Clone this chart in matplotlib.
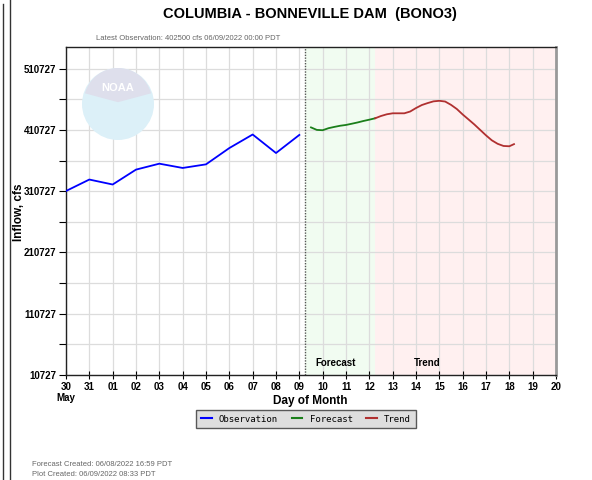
import numpy as np
import matplotlib.pyplot as plt
from matplotlib.patches import Circle, Wedge
from matplotlib.lines import Line2D

plt.rcParams["font.family"] = ["Liberation Sans", "DejaVu Sans"]

# days counted from May 30 00:00
obs_days = [0, 1, 2, 3, 4, 5, 6, 7, 8, 9, 10]
obs_flow = [311000, 329700, 321600, 345900, 355600, 348600, 354500,
            381100, 403200, 373000, 402500]

fcst_days = [10.5, 10.75, 11.0, 11.25, 11.5, 11.75, 12.0, 12.25, 12.5,
             12.75, 13.0, 13.25]
fcst_flow = [414800, 410700, 410200, 413500, 415600, 417500, 418800,
             420800, 422900, 425300, 427400, 429700]

trend_days = [13.25, 13.5, 13.75, 14.0, 14.25, 14.5, 14.75, 15.0, 15.25,
              15.5, 15.75, 16.0, 16.25, 16.5, 16.75, 17.0, 17.25, 17.5,
              17.75, 18.0, 18.25, 18.5, 18.75, 19.0, 19.2]
trend_flow = [429700, 433400, 436200, 437800, 437800, 437800, 440700,
              446400, 451300, 454500, 457300, 458200, 457000, 451600,
              444800, 435900, 427800, 419600, 410700, 401800, 393700,
              388000, 384500, 384000, 387500]

day_labels = ["30", "31", "01", "02", "03", "04", "05", "06", "07", "08",
              "09", "10", "11", "12", "13", "14", "15", "16", "17", "18",
              "19", "20"]
y_major = [10727, 110727, 210727, 310727, 410727, 510727]

now_day = 10.25
fcst_end = 13.25

fig = plt.figure(figsize=(5.92, 4.80), dpi=100)
ax = fig.add_axes([66 / 592, 1 - 375 / 480, 490 / 592, 328 / 480])

ax.axvspan(now_day, fcst_end, color="#f1fcf1", zorder=0, lw=0)
ax.axvspan(fcst_end, 21, color="#fff0f0", zorder=0, lw=0)

ax.set_xlim(0, 21)
ax.set_ylim(10727, 546000)
ax.set_xticks(range(22))
ax.set_xticklabels(day_labels, fontsize=7, fontweight="bold")
ax.set_yticks(y_major)
ax.set_yticklabels([str(v) for v in y_major], fontsize=7, fontweight="bold")
ax.set_yticks(np.arange(60727, 546000, 100000), minor=True)
ax.tick_params(axis="x", direction="inout", length=6, width=0.8, pad=2)
ax.tick_params(axis="y", which="both", direction="out", length=5, width=0.8,
               pad=2)
ax.grid(True, which="both", color="#dcdcdc", lw=0.9, zorder=1)
ax.set_axisbelow(True)

for s in ["left", "bottom", "top"]:
    ax.spines[s].set_color("#222222")
    ax.spines[s].set_linewidth(1.0)
ax.spines["right"].set_color("#999999")
ax.spines["right"].set_linewidth(2.0)

# faint NOAA watermark
logo = fig.add_axes([82 / 592, 1 - 140 / 480, 72 / 592, 72 / 480])
logo.set_xlim(-1, 1)
logo.set_ylim(-1, 1)
logo.set_aspect("equal")
logo.axis("off")
logo.add_patch(Circle((0, 0), 1, color="#dcf0f8", lw=0))
logo.add_patch(Wedge((0, 0.05), 0.95, 15, 165, color="#dedfec", lw=0))
logo.text(0, 0.45, "NOAA", color="white", fontsize=8, fontweight="bold",
          ha="center", va="center")

ax.plot(obs_days, obs_flow, color="#0000ff", lw=1.3, zorder=3)
ax.plot(fcst_days, fcst_flow, color="#1a7f1a", lw=1.3, zorder=3)
ax.plot(trend_days, trend_flow, color="#b03030", lw=1.3, zorder=3)
ax.axvline(now_day, color="#555555", ls=(0, (1, 1)), lw=1.0, zorder=2)

ax.text(11.57, 30500, "Forecast", fontsize=7, fontweight="bold",
        ha="center", va="center")
ax.text(15.5, 30500, "Trend", fontsize=7, fontweight="bold",
        ha="center", va="center")

fig.text(310 / 592, 1 - 14 / 480, "COLUMBIA - BONNEVILLE DAM  (BONO3)",
         fontsize=10.5, fontweight="bold", ha="center", va="center")
fig.text(96 / 592, 1 - 38 / 480,
         "Latest Observation: 402500 cfs 06/09/2022 00:00 PDT",
         fontsize=5.5, color="#666666", ha="left", va="center")
fig.text(19 / 592, 1 - 212 / 480, "Inflow, cfs", fontsize=8.5,
         fontweight="bold", rotation=90, ha="center", va="center")
fig.text(310 / 592, 1 - 401 / 480, "Day of Month", fontsize=8.5,
         fontweight="bold", ha="center", va="center")
fig.text(66 / 592, 1 - 398 / 480, "May", fontsize=7, fontweight="bold",
         ha="center", va="center")
fig.text(32 / 592, 1 - 464 / 480, "Forecast Created: 06/08/2022 16:59 PDT",
         fontsize=5.5, color="#666666", ha="left", va="center")
fig.text(32 / 592, 1 - 475 / 480, "Plot Created: 06/09/2022 08:33 PDT",
         fontsize=5.5, color="#666666", ha="left", va="center")

handles = [Line2D([], [], color="#0000ff", lw=1.5),
           Line2D([], [], color="#1a7f1a", lw=1.5),
           Line2D([], [], color="#b03030", lw=1.5)]
leg = fig.legend(handles, ["Observation", "Forecast", "Trend"], ncol=3,
                 loc="center", bbox_to_anchor=(306 / 592, 1 - 419 / 480),
                 prop={"family": "DejaVu Sans Mono", "size": 6.5},
                 frameon=True, fancybox=False, handlelength=1.2,
                 columnspacing=1.5, handletextpad=0.8, borderpad=0.5)
leg.get_frame().set_facecolor("#d6d6d6")
leg.get_frame().set_edgecolor("#333333")
leg.get_frame().set_linewidth(1.0)

# page border lines at the left edge
fig.add_artist(Line2D([3 / 592, 3 / 592], [0, 1 - 4 / 480], color="#333333",
                      lw=1.0))
fig.add_artist(Line2D([10 / 592, 10 / 592], [0, 1], color="#333333", lw=1.0))

fig.savefig("out.png", dpi=100)
